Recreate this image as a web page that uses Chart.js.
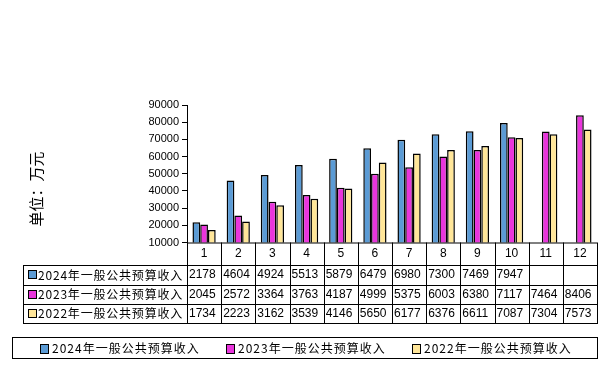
<!DOCTYPE html>
<html><head><meta charset="utf-8">
<script src="https://cdn.jsdelivr.net/npm/chart.js@4"></script>
<style>html,body{margin:0;padding:0;background:#fff}canvas{display:block}</style>
</head><body>
<canvas id="c" width="605" height="378"></canvas>
<script>
const categories = ['1','2','3','4','5','6','7','8','9','10','11','12'];
const seriesNames = ['2024年一般公共预算收入','2023年一般公共预算收入','2022年一般公共预算收入'];
const values2024 = [21780,46040,49240,55130,58790,64790,69800,73000,74690,79470,null,null];
const values2023 = [20450,25720,33640,37630,41870,49990,53750,60030,63800,71170,74640,84060];
const values2022 = [17340,22230,31620,35390,41460,56500,61770,63760,66110,70870,73040,75730];
const yTicks = [10000,20000,30000,40000,50000,60000,70000,80000,90000];
const yTitle = '单位：万元';
const colors = ['#5B9BD5','#E935DC','#FFE699'];

const CJK = '"Noto Sans CJK SC", "Liberation Sans", sans-serif';
const NUM = '"Liberation Sans", Arial, sans-serif';

const tablePlugin = {
  id: 'tablePlugin',
  afterDraw(chart) {
    const ctx = chart.ctx, x = chart.scales.x, ca = chart.chartArea;
    const n = categories.length;
    const cw = (ca.right - ca.left) / n;
    const top = ca.bottom;
    const rows = [top + 22, top + 42, top + 61, top + 80.5];
    const leftEdge = 23;
    ctx.save();
    ctx.strokeStyle = '#000'; ctx.lineWidth = 1;
    ctx.beginPath();
    ctx.moveTo(ca.left, top + 0.5); ctx.lineTo(ca.right, top + 0.5);
    rows.forEach(r => { ctx.moveTo(leftEdge, Math.round(r) + 0.5); ctx.lineTo(ca.right, Math.round(r) + 0.5); });
    ctx.moveTo(leftEdge + 0.5, Math.round(rows[0])); ctx.lineTo(leftEdge + 0.5, Math.round(rows[3]) + 1);
    for (let i = 0; i <= n; i++) {
      const px = Math.round(x.getPixelForValue(i) - cw / 2) + 0.5;
      ctx.moveTo(px, top); ctx.lineTo(px, Math.round(rows[3]) + 1);
    }
    ctx.stroke();
    // header
    ctx.fillStyle = '#000';
    ctx.font = '12px ' + NUM;
    ctx.textAlign = 'center'; ctx.textBaseline = 'middle';
    categories.forEach((c, i) => ctx.fillText(c, x.getPixelForValue(i), top + 11.5));
    // rows
    chart.data.datasets.forEach((ds, r) => {
      const yTop = rows[r], yBot = rows[r + 1], ym = (yTop + yBot) / 2 + 0.5;
      ctx.fillStyle = ds.backgroundColor;
      ctx.fillRect(28, Math.round(ym) - 4, 8, 8);
      ctx.strokeStyle = '#000';
      ctx.strokeRect(28.5, Math.round(ym) - 4.5, 8, 8);
      ctx.fillStyle = '#000';
      ctx.textAlign = 'left';
      ctx.font = '12px ' + CJK;
      ctx.letterSpacing = '0.8px';
      ctx.fillText(ds.label, 38, ym);
      ctx.letterSpacing = '0px';
      ctx.font = '12px ' + NUM;
      ds.data.forEach((v, i) => {
        if (v == null) return;
        const cx = x.getPixelForValue(i) - cw / 2 + 2;
        ctx.fillText(String(v).slice(0, 4), cx, ym);
      });
    });
    // axis title
    ctx.save();
    ctx.translate(36, 189);
    ctx.rotate(-Math.PI / 2);
    ctx.font = '15px ' + CJK;
    ctx.textAlign = 'center'; ctx.textBaseline = 'middle';
    ctx.fillText(yTitle, 0, 0);
    ctx.restore();
    // legend
    const lt = 337, lb = 358, ll = 12, lr = ca.right;
    ctx.strokeStyle = '#000';
    ctx.strokeRect(ll + 0.5, lt + 0.5, lr - ll, lb - lt);
    const lm = (lt + lb) / 2 + 1;
    chart.data.datasets.forEach((ds, i) => {
      const sx = 40 + i * 186;
      ctx.fillStyle = ds.backgroundColor;
      ctx.fillRect(sx, Math.round(lm) - 4, 8, 9);
      ctx.strokeRect(sx + 0.5, Math.round(lm) - 4.5, 8, 9);
      ctx.fillStyle = '#000';
      ctx.font = '12px ' + CJK;
      ctx.letterSpacing = '1px';
      ctx.textAlign = 'left';
      ctx.fillText(ds.label, sx + 12, lm);
      ctx.letterSpacing = '0px';
    });
    ctx.restore();
  }
};

new Chart(document.getElementById('c'), {
  type: 'bar',
  data: {
    labels: categories,
    datasets: [
      { label: seriesNames[0], data: values2024, backgroundColor: colors[0] },
      { label: seriesNames[1], data: values2023, backgroundColor: colors[1] },
      { label: seriesNames[2], data: values2022, backgroundColor: colors[2] }
    ].map(d => Object.assign(d, { borderColor: '#000', borderWidth: 1.5, categoryPercentage: 0.68, barPercentage: 1.0 }))
  },
  options: {
    responsive: false,
    animation: false,
    layout: { padding: { left: 0, right: 8, top: 105, bottom: 135.5 } },
    plugins: { legend: { display: false }, tooltip: { enabled: false } },
    scales: {
      x: { display: false },
      y: {
        min: 10000, max: 90000,
        afterFit(s) { s.width = 187; },
        afterBuildTicks(s) { s.ticks = yTicks.map(v => ({ value: v })); },
        ticks: { color: '#000', font: { family: NUM, size: 11 }, padding: 3, callback: v => String(v) },
        grid: { display: true, drawOnChartArea: false, drawTicks: true, tickLength: 5, color: '#000' },
        border: { display: true, color: '#000', width: 1 }
      }
    }
  },
  plugins: [tablePlugin]
});
</script>
</body></html>
